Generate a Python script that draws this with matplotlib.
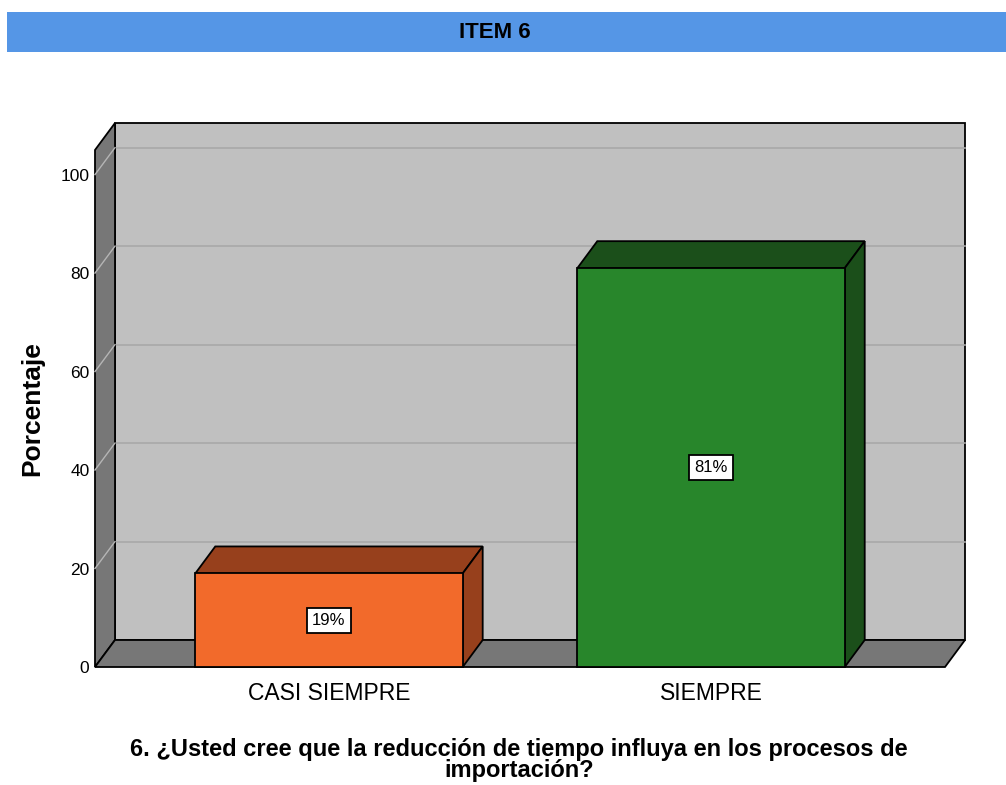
import matplotlib
matplotlib.use("Agg")
import matplotlib.pyplot as plt
from matplotlib.patches import Polygon, Rectangle
import numpy as np

plt.rcParams['font.family'] = ['Liberation Sans', 'DejaVu Sans']

categories = ["CASI SIEMPRE", "SIEMPRE"]
values = [19, 81]
labels = ["19%", "81%"]
yticks = [0, 20, 40, 60, 80, 100]

front_cols = ["#F26A2B", "#28862B"]
dark_cols = ["#97401C", "#1B4F1A"]

W, H = 1006, 785
fig = plt.figure(figsize=(W / 100, H / 100), dpi=100)
fig.patch.set_facecolor("white")

# title band
fig.patches.append(Rectangle((7 / W, 1 - 52 / H), 1 - 7 / W, 40 / H,
                             transform=fig.transFigure, facecolor="#5596E6",
                             edgecolor="none", zorder=0))
fig.text(495 / W, 1 - 33 / H, "ITEM 6", ha="center", va="center",
         fontsize=16, fontweight="bold", stretch="condensed")

# front plane of the 3D box
left, right, bottom, top = 95, 945, 667, 150
ax = fig.add_axes([left / W, 1 - bottom / H, (right - left) / W, (bottom - top) / H])
ymax = 105
x0, x1 = -0.6125, 1.6125
ax.set_xlim(x0, x1)
ax.set_ylim(0, ymax)
for s in ax.spines.values():
    s.set_visible(False)
ax.patch.set_visible(False)

# depth offset in data units
dpx, dpy = 20, 27
dx = dpx * (x1 - x0) / (right - left)
dy = dpy * ymax / (bottom - top)

def poly(pts, fc, z, lw=1.3):
    ax.add_patch(Polygon(pts, closed=True, facecolor=fc, edgecolor="black",
                         linewidth=lw, zorder=z, clip_on=False))

# back wall
poly([(x0 + dx, dy), (x1 + dx, dy), (x1 + dx, ymax + dy), (x0 + dx, ymax + dy)], "#C0C0C0", 1)
# gridlines on back wall and left wall
for t in yticks[1:]:
    ax.plot([x0 + dx, x1 + dx], [t + dy, t + dy], color="#A9A9A9", lw=1.2, zorder=2, clip_on=False)
# left wall
poly([(x0, 0), (x0 + dx, dy), (x0 + dx, ymax + dy), (x0, ymax)], "#777777", 3)
for t in yticks[1:]:
    ax.plot([x0, x0 + dx], [t, t + dy], color="#B5B5B5", lw=1.0, zorder=4, clip_on=False)
# floor
poly([(x0, 0), (x1, 0), (x1 + dx, dy), (x0 + dx, dy)], "#777777", 3)

# bars
bw = 0.7
for i, (v, lab) in enumerate(zip(values, labels)):
    bl, br = i - bw / 2, i + bw / 2
    z = 5 + i * 3
    poly([(bl, v), (br, v), (br + dx, v + dy), (bl + dx, v + dy)], dark_cols[i], z)
    poly([(br, 0), (br + dx, dy), (br + dx, v + dy), (br, v)], dark_cols[i], z)
    poly([(bl, 0), (br, 0), (br, v), (bl, v)], front_cols[i], z + 1)
    ax.text(i, v / 2, lab, ha="center", va="center", fontsize=12, zorder=20,
            bbox=dict(boxstyle="square,pad=0.3", facecolor="white", edgecolor="black", linewidth=1.3))

ax.set_xticks(range(len(categories)))
ax.set_xticklabels(categories, fontsize=16.5)
ax.set_yticks(yticks)
ax.set_yticklabels([str(t) for t in yticks], fontsize=12.5)
ax.tick_params(axis="both", length=0)
ax.tick_params(axis="x", pad=11)
ax.tick_params(axis="y", pad=4)
ax.set_ylabel("Porcentaje", fontsize=19, fontweight="bold", labelpad=12)

fig.text(519 / W, 1 - 760 / H,
         "6. ¿Usted cree que la reducción de tiempo influya en los procesos de\nimportación?",
         ha="center", va="center", fontsize=17, fontweight="bold", linespacing=0.9)

fig.savefig("out.png", dpi=100)
